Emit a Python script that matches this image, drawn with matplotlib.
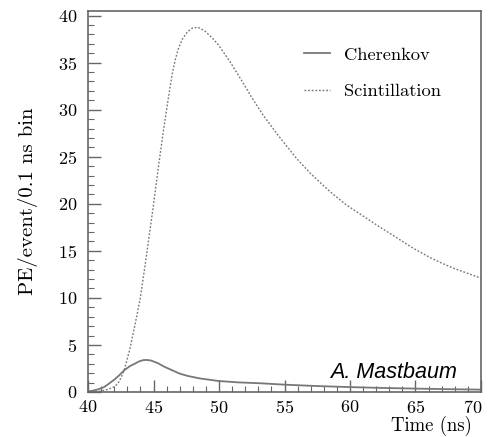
import matplotlib
matplotlib.use("Agg")
import matplotlib.pyplot as plt
import matplotlib.transforms as mtransforms
from matplotlib.ticker import MultipleLocator

# Data
cher_t = [40.0, 40.4, 40.76, 41.2, 41.53, 42.0, 42.4, 42.8, 43.2, 43.56, 43.9, 44.2,
          44.45, 44.8, 45.34, 45.8, 46.36, 47.0, 47.63, 48.5, 49.95, 51.5, 53.25,
          55.0, 57.5, 60.0, 62.5, 65.0, 67.5, 70.0]
cher_pe = [0.05, 0.15, 0.28, 0.5, 0.82, 1.3, 1.8, 2.35, 2.75, 3.0, 3.25, 3.38,
           3.41, 3.35, 3.06, 2.7, 2.35, 1.95, 1.7, 1.45, 1.17, 1.02, 0.92,
           0.78, 0.63, 0.52, 0.43, 0.36, 0.3, 0.25]

scint_t = [40.0, 40.5, 41.0, 41.53, 42.0, 42.29, 42.55, 42.8, 43.18, 43.56, 43.97,
           44.35, 44.6, 44.99, 45.42, 45.75, 46.13, 46.4, 46.64, 46.9, 47.2, 47.6,
           48.0, 48.4, 48.9, 49.5, 49.95, 50.4, 50.84, 51.86, 52.5, 53.38, 54.5,
           55.93, 57.0, 58.47, 59.7, 61.0, 62.2, 63.56, 64.8, 66.1, 67.0, 68.0,
           69.0, 70.0]
scint_pe = [0.0, 0.02, 0.1, 0.28, 0.55, 0.9, 1.6, 2.5, 4.48, 6.97, 9.8,
            13.4, 15.9, 19.8, 24.4, 27.7, 31.2, 33.6, 35.2, 36.5, 37.5, 38.3,
            38.7, 38.75, 38.4, 37.6, 36.9, 36.0, 35.1, 32.8, 31.3, 29.4, 27.3,
            24.8, 23.2, 21.3, 19.9, 18.7, 17.6, 16.4, 15.3, 14.3, 13.7, 13.1,
            12.6, 12.1]

plt.rcParams['font.family'] = ['cmr10', 'DejaVu Serif']
plt.rcParams['axes.formatter.use_mathtext'] = True

fig = plt.figure(figsize=(4.89, 4.37), dpi=100)
ax = fig.add_axes([0.18, 0.103, 0.8036, 0.872])

line_col = '#777777'
ax.plot(cher_t, cher_pe, color=line_col, lw=1.3, label='Cherenkov')
ax.plot(scint_t, scint_pe, color=line_col, lw=1.0, linestyle=(0, (1.3, 1.3)),
        label='Scintillation')

ax.set_xlim(40, 70)
ax.set_ylim(0, 40.5)
ax.xaxis.set_major_locator(MultipleLocator(5))
ax.xaxis.set_minor_locator(MultipleLocator(1))
ax.yaxis.set_major_locator(MultipleLocator(5))
ax.yaxis.set_minor_locator(MultipleLocator(1))

spine_col = '#666666'
for s in ax.spines.values():
    s.set_color(spine_col)
    s.set_linewidth(1.2)
ax.tick_params(which='both', direction='in', colors=spine_col, labelcolor='black',
               top=False, right=False)
ax.tick_params(which='major', length=9, width=1.0, labelsize=13)
ax.tick_params(which='minor', length=4, width=0.8)
ax.tick_params(axis='y', which='major', pad=8)
ax.tick_params(axis='x', which='major', pad=5)

ax.set_ylabel('PE/event/0.1 ns bin', fontsize=15, labelpad=14)
ax.set_xlabel('Time (ns)', fontsize=13.5)
ax.xaxis.set_label_coords(0.978, -0.09)
ax.xaxis.label.set_horizontalalignment('right')
ax.xaxis.label.set_verticalalignment('center')

leg = ax.legend(loc='upper left', frameon=False, fontsize=13.3, handlelength=1.45,
                handletextpad=0.75, labelspacing=1.12, bbox_to_anchor=(0.53, 0.925),
                borderaxespad=0.0)

ax.text(0.939, 0.037, 'A. Mastbaum', transform=ax.transAxes, ha='right',
        va='baseline', fontsize=15.5, style='italic',
        family=['Liberation Sans', 'DejaVu Sans'])

fig.canvas.draw()
# keep the last x tick label ("70") inside the canvas
for tick in ax.xaxis.get_major_ticks():
    if abs(tick.get_loc() - 70) < 1e-6:
        tick.label1.set_transform(tick.label1.get_transform() +
                                  mtransforms.ScaledTranslation(-8 / 100, 0,
                                                                fig.dpi_scale_trans))

fig.savefig('out.png', dpi=100)
